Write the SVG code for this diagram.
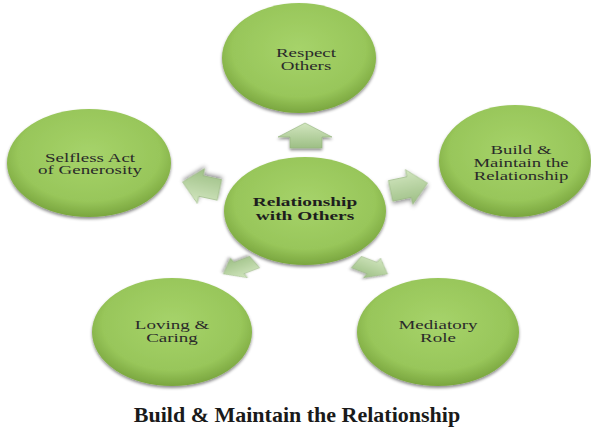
<svg xmlns="http://www.w3.org/2000/svg" width="591" height="446" viewBox="0 0 591 446">
<defs>
<radialGradient id="gEll" cx="50%" cy="42%" r="58%">
<stop offset="0" stop-color="#a6d36a"/>
<stop offset="0.75" stop-color="#98c65a"/>
<stop offset="1" stop-color="#7aa63f"/>
</radialGradient>
<linearGradient id="gArr" x1="0" y1="0" x2="0" y2="1">
<stop offset="0" stop-color="#d2e6bf"/>
<stop offset="1" stop-color="#9dbf85"/>
</linearGradient>
<filter id="sh" x="-20%" y="-20%" width="140%" height="150%">
<feDropShadow dx="0" dy="2" stdDeviation="1.8" flood-color="#000" flood-opacity="0.45"/>
</filter>
<path id="arr" d="M18,0 L0,-17 L0,-10 L-18,-10 L-18,10 L0,10 L0,17 Z"/>
</defs>
<style>
.node ellipse{fill:url(#gEll);filter:url(#sh);}
.lbl{font-family:"Liberation Serif","Times New Roman",serif;font-size:12.5px;fill:#2a2a2a;text-anchor:middle;}
.b{font-weight:bold;fill:#1e1e1e;}
.arrow{fill:url(#gArr);stroke:#94b47d;stroke-width:0.6;filter:url(#sh);}
.title{font-family:"Liberation Serif","Times New Roman",serif;font-size:22px;font-weight:bold;fill:#1a1a1a;text-anchor:middle;}
</style>
<rect width="591" height="446" fill="#ffffff"/>

<g id="connectors">
<polygon class="arrow" points="305,123 332,137 322,137 322,148 290,148 290,137 278,137"/>
<use href="#arr" class="arrow" transform="translate(201,186) rotate(192) scale(1.05)"/>
<use href="#arr" class="arrow" transform="translate(409,187) rotate(-12) scale(1.05)"/>
<use href="#arr" class="arrow" transform="translate(239,268) scale(1.0,0.66) rotate(150)"/>
<use href="#arr" class="arrow" transform="translate(372,268) scale(1.0,0.66) rotate(30)"/>
</g>

<g id="node-respect" class="node">
<ellipse cx="299" cy="58" rx="77" ry="55"/>
<text class="lbl" transform="translate(306,0) scale(1.52,1)"><tspan x="0" y="57">Respect</tspan><tspan x="0" y="70">Others</tspan></text>
</g>

<g id="node-center" class="node">
<ellipse cx="305" cy="211" rx="81" ry="54"/>
<text class="lbl b" transform="translate(305,0) scale(1.55,1)"><tspan x="0" y="206">Relationship</tspan><tspan x="0" y="220.5">with Others</tspan></text>
</g>

<g id="node-selfless" class="node">
<ellipse cx="89" cy="163" rx="82" ry="54"/>
<text class="lbl" transform="translate(90,0) scale(1.52,1)"><tspan x="0" y="162">Selfless Act</tspan><tspan x="0" y="174">of Generosity</tspan></text>
</g>

<g id="node-build" class="node">
<ellipse cx="515" cy="161" rx="76" ry="56"/>
<text class="lbl" transform="translate(521,0) scale(1.5,1)"><tspan x="0" y="154">Build &amp;</tspan><tspan x="0" y="167">Maintain the</tspan><tspan x="0" y="180">Relationship</tspan></text>
</g>

<g id="node-loving" class="node">
<ellipse cx="172" cy="332" rx="80" ry="54"/>
<text class="lbl" transform="translate(172,0) scale(1.52,1)"><tspan x="0" y="329">Loving &amp;</tspan><tspan x="0" y="342">Caring</tspan></text>
</g>

<g id="node-mediatory" class="node">
<ellipse cx="438" cy="332" rx="81" ry="54"/>
<text class="lbl" transform="translate(438,0) scale(1.52,1)"><tspan x="0" y="329">Mediatory</tspan><tspan x="0" y="342">Role</tspan></text>
</g>

<text class="title" x="297" y="422">Build &amp; Maintain the Relationship</text>
</svg>
